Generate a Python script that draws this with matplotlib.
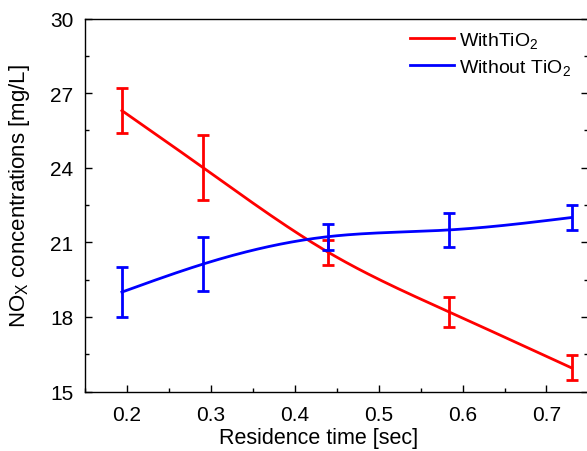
import numpy as np
import matplotlib
matplotlib.use("Agg")
import matplotlib.pyplot as plt
from matplotlib.ticker import MultipleLocator

plt.rcParams["font.family"] = ["Liberation Sans", "DejaVu Sans"]
plt.rcParams["mathtext.fontset"] = "custom"
plt.rcParams["mathtext.rm"] = "Liberation Sans"
plt.rcParams["mathtext.default"] = "regular"

# values
time = [0.194, 0.291, 0.44, 0.584, 0.73]
with_tio2 = [26.3, 24.0, 20.6, 18.2, 15.95]
with_err = [0.9, 1.3, 0.5, 0.6, 0.5]
without_tio2 = [19.0, 20.13, 21.23, 21.5, 22.0]
without_err = [1.0, 1.08, 0.52, 0.7, 0.5]


def smooth(x, y, n=200):
    # natural cubic spline, just for drawing the line through the points
    x = np.asarray(x, float)
    y = np.asarray(y, float)
    h = np.diff(x)
    k = len(x)
    A = np.zeros((k, k))
    b = np.zeros(k)
    A[0, 0] = A[-1, -1] = 1
    for i in range(1, k - 1):
        A[i, i - 1] = h[i - 1]
        A[i, i] = 2 * (h[i - 1] + h[i])
        A[i, i + 1] = h[i]
        b[i] = 6 * ((y[i + 1] - y[i]) / h[i] - (y[i] - y[i - 1]) / h[i - 1])
    m = np.linalg.solve(A, b)
    xs = np.linspace(x[0], x[-1], n)
    idx = np.clip(np.searchsorted(x, xs) - 1, 0, k - 2)
    t = xs - x[idx]
    hi = h[idx]
    a = (m[idx + 1] - m[idx]) / (6 * hi)
    c = (y[idx + 1] - y[idx]) / hi - hi * (2 * m[idx] + m[idx + 1]) / 6
    ys = y[idx] + c * t + m[idx] / 2 * t ** 2 + a * t ** 3
    return xs, ys


fig = plt.figure(figsize=(5.87, 4.52), dpi=100)
ax = fig.add_axes([0.1448, 0.1316, 0.8576, 0.825])

xs, ys = smooth(time, with_tio2)
ax.plot(xs, ys, color="#ff0000", lw=2, label="WithTiO$_2$")
ax.errorbar(time, with_tio2, yerr=with_err, fmt="none", ecolor="#ff0000",
            elinewidth=2, capsize=4, capthick=2)

xs, ys = smooth(time, without_tio2)
ax.plot(xs, ys, color="#0000ff", lw=2, label="Without TiO$_2$")
ax.errorbar(time, without_tio2, yerr=without_err, fmt="none", ecolor="#0000ff",
            elinewidth=2, capsize=4, capthick=2)

ax.set_xlim(0.15, 0.75)
ax.set_ylim(15, 30)
ax.xaxis.set_major_locator(MultipleLocator(0.1))
ax.xaxis.set_minor_locator(MultipleLocator(0.05))
ax.yaxis.set_major_locator(MultipleLocator(3))
ax.yaxis.set_minor_locator(MultipleLocator(1.5))
ax.tick_params(which="both", direction="in", right=True, labelsize=15, width=1)
ax.tick_params(which="major", length=5)
ax.tick_params(which="minor", length=3)
ax.tick_params(axis="x", which="major", pad=10)
ax.tick_params(axis="y", which="major", pad=8.5)
for s in ax.spines.values():
    s.set_linewidth(1)

ax.set_xlabel("Residence time [sec]", fontsize=15.5, labelpad=2)
ax.set_ylabel("NO$_\\mathrm{X}$ concentrations [mg/L]", fontsize=16)
ax.xaxis.label.set_x(0.463)
ax.yaxis.set_label_coords(-0.106, 0.527)

ax.legend(loc="upper left", bbox_to_anchor=(0.645, 0.97), frameon=False,
          fontsize=14, handlelength=2.3, handletextpad=0.25, borderpad=0,
          borderaxespad=0, labelspacing=0.35)

fig.savefig("out.png", dpi=100)
